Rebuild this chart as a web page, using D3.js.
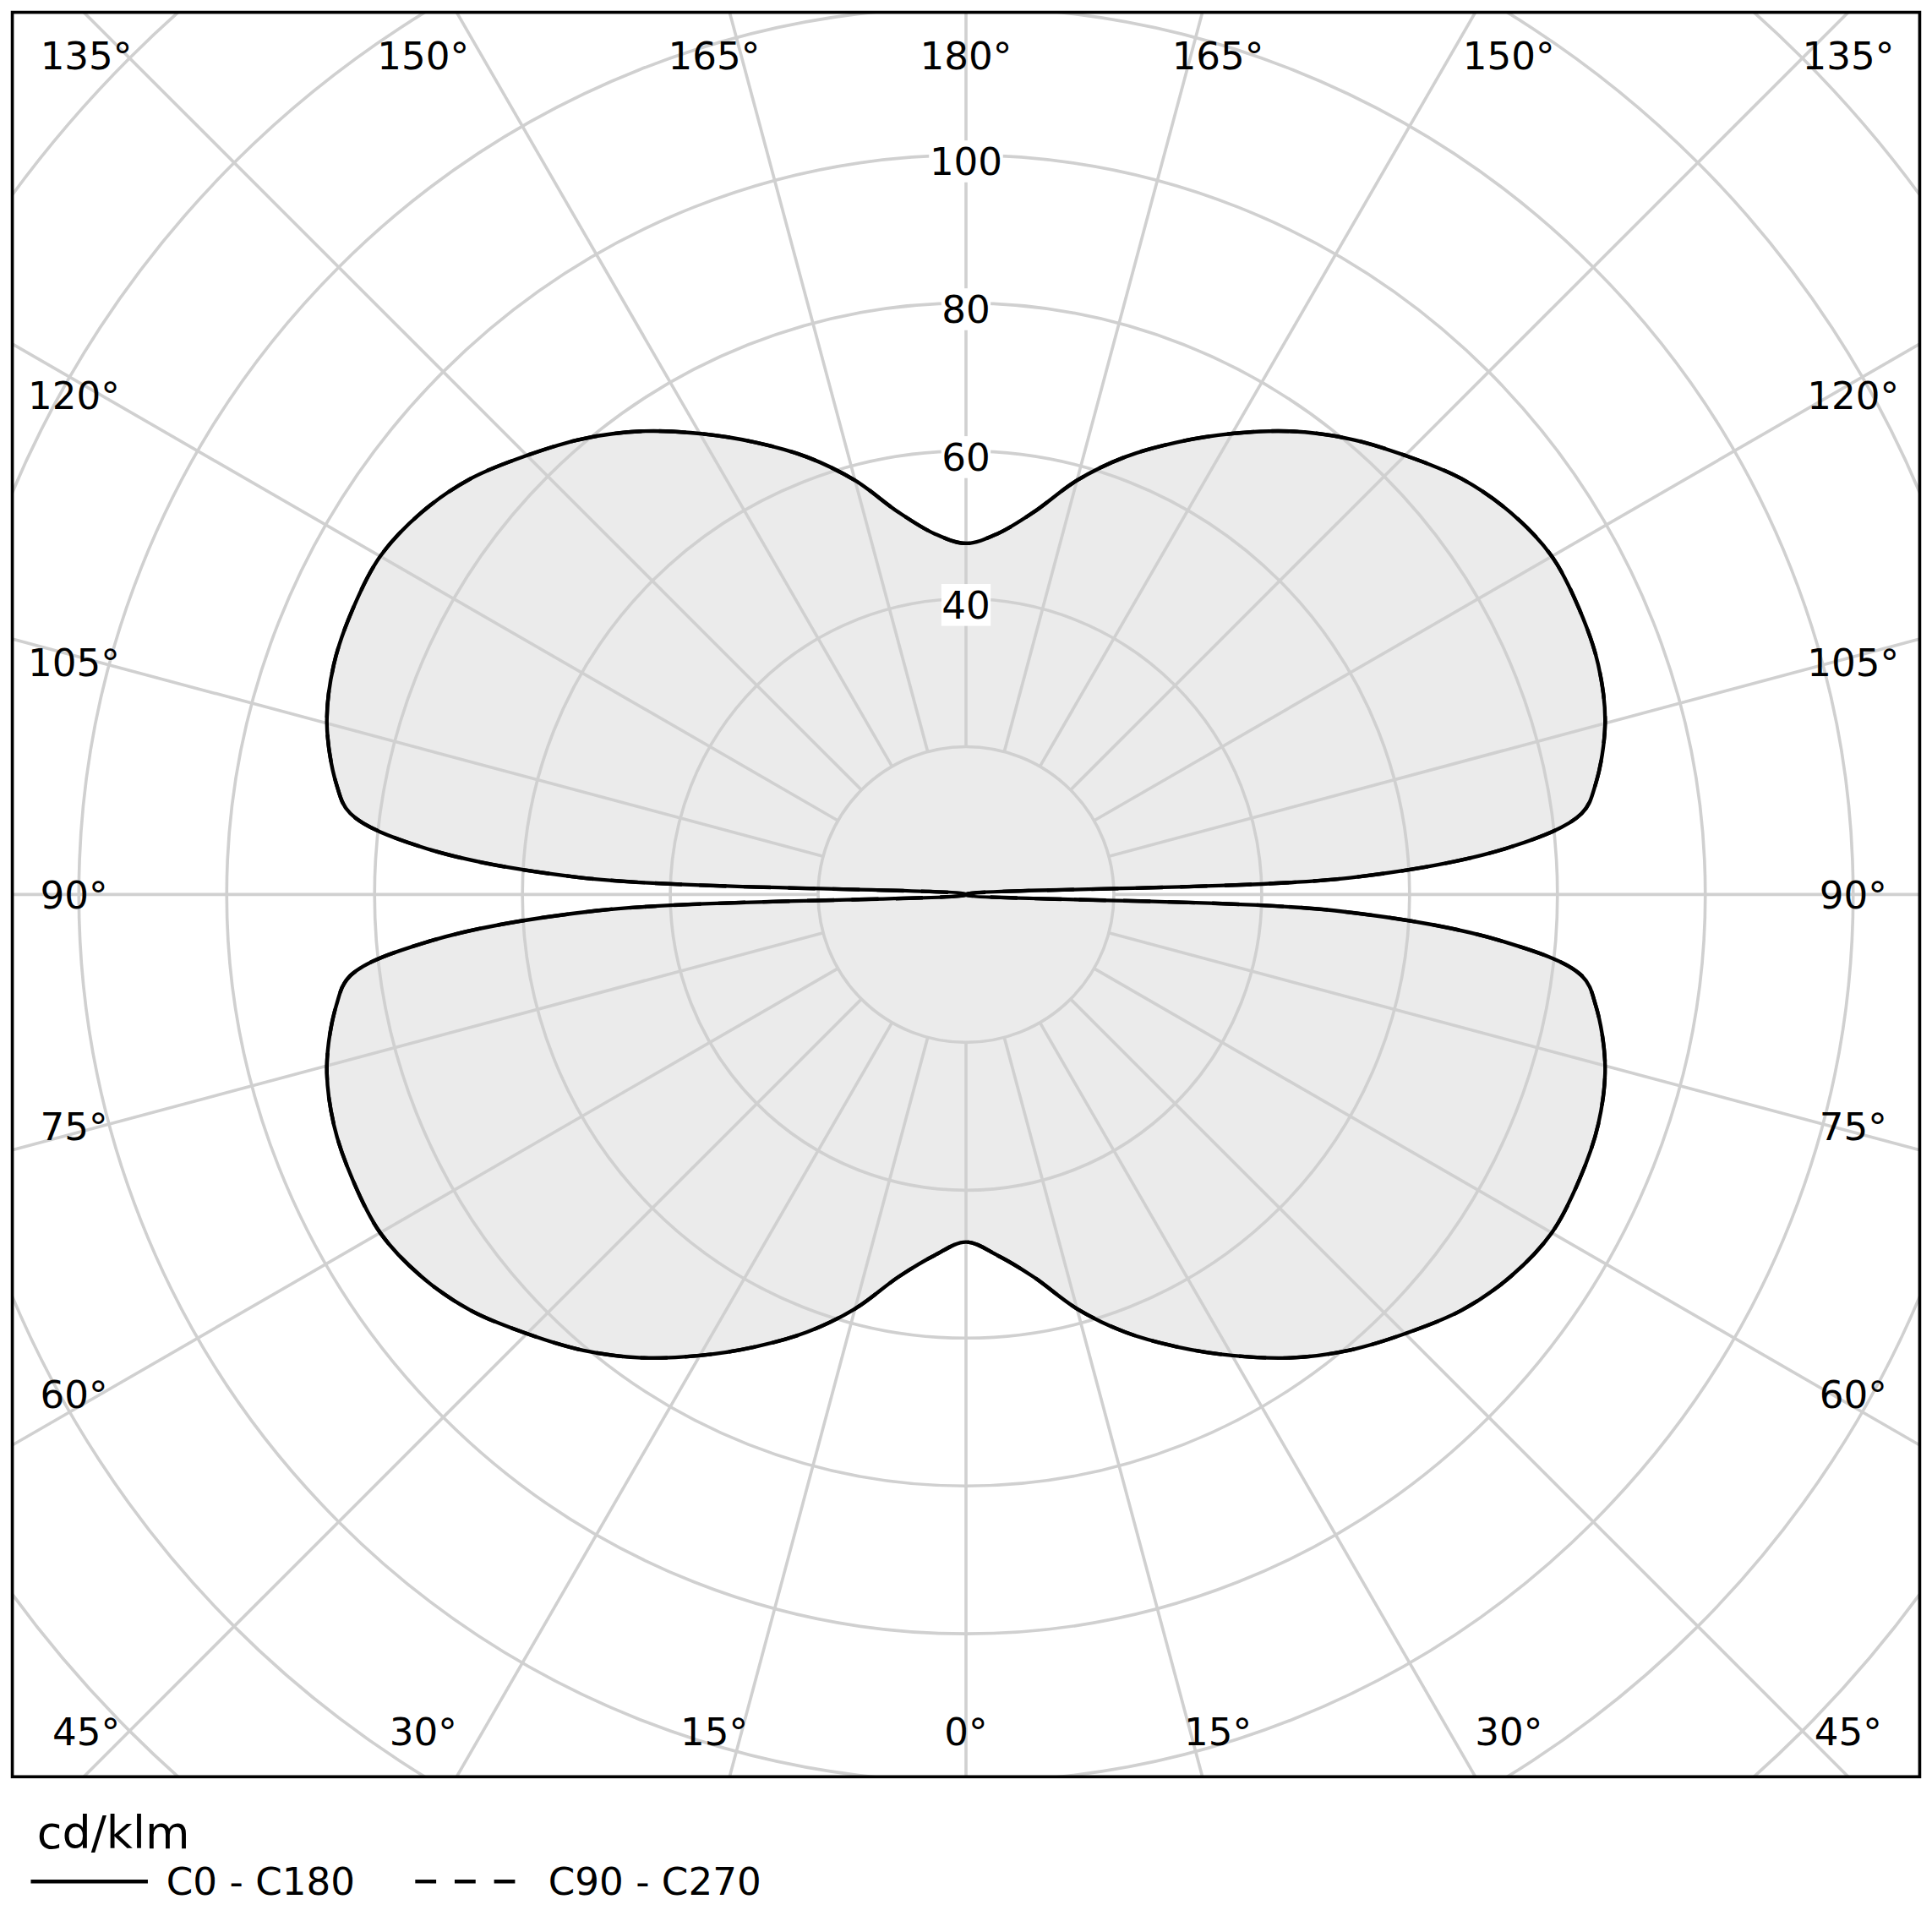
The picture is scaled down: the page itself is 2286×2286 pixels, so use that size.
<!DOCTYPE html>
<html>
<head>
<meta charset="utf-8">
<script src="https://cdn.jsdelivr.net/npm/d3@7"></script>
<style>body{margin:0;background:#fff}</style>
</head>
<body>
<script>
// gamma angles (deg) and intensity cd/klm for C0-C180
const gammaLower = [0, 5, 10, 15, 20, 25, 30, 35, 40, 45, 50, 55, 60, 65, 70, 75, 80, 82.5, 85, 87.5, 90];
const valuesLower = [47, 49, 52.5, 58, 63, 67.5, 72, 76.5, 80.5, 84, 87.5, 90, 91.5, 91.5, 91, 89.5, 86.5, 84, 73, 50, 0];
const gammaUpper = [90, 92.5, 95, 97.5, 100, 105, 110, 115, 120, 125, 130, 135, 140, 145, 150, 155, 160, 165, 170, 175, 180];
const valuesUpper = [0, 52, 74, 84, 86.5, 89.5, 91, 91.5, 91.5, 90, 87.5, 84, 80.5, 76.5, 72, 67.5, 63, 58, 52.5, 49, 47.5];
const ringValues = [20, 40, 60, 80, 100, 120, 140, 160, 180, 200];
const ringLabels = [40, 60, 80, 100];
const spokeAngles = d3.range(0, 360, 15);
const topLabels = [135, 150, 165, 180, 165, 150, 135];
const bottomLabels = [45, 30, 15, 0, 15, 30, 45];
const sideLabels = [120, 105, 90, 75, 60];

const W = 1568, k = 2286 / W;
const cx = 784, cy = 726;
const frame = {x: 10, y: 10, w: 1548, h: 1432};
const r = d3.scaleLinear().domain([0, 100]).range([0, 600]);
const grid = "#d0d0d0";
const font = "DejaVu Sans, Verdana, sans-serif";

const svg = d3.select("body").append("svg")
  .attr("width", 2286).attr("height", 2286)
  .attr("viewBox", `0 0 ${W} ${W}`);

svg.append("clipPath").attr("id", "fr").append("rect")
  .attr("x", frame.x).attr("y", frame.y).attr("width", frame.w).attr("height", frame.h);

const g = svg.append("g").attr("clip-path", "url(#fr)");

// curve points: gamma 0 at bottom
const pts = [];
gammaLower.forEach((a, i) => pts.push([a, valuesLower[i]]));
gammaUpper.slice(1).forEach((a, i) => pts.push([a, valuesUpper[i + 1]]));
const rad = d => d * Math.PI / 180;
const right = pts.map(([a, v]) => [Math.PI - rad(a), r(v)]);
const left = pts.slice().reverse().map(([a, v]) => [Math.PI + rad(a), r(v)]);
const line = d3.lineRadial().curve(d3.curveCatmullRomClosed.alpha(0.5));
const shape = line(right.concat(left.slice(1, -1)));

g.append("path").attr("transform", `translate(${cx},${cy})`)
  .attr("d", shape).attr("fill", "#ebebeb");

// rings
g.selectAll("circle.ring").data(ringValues).join("circle")
  .attr("cx", cx).attr("cy", cy).attr("r", d => r(d))
  .attr("fill", "none").attr("stroke", grid).attr("stroke-width", 2.5);

// spokes
g.selectAll("line.spoke").data(spokeAngles).join("line")
  .attr("x1", d => cx + r(20) * Math.sin(rad(d)))
  .attr("y1", d => cy + r(20) * Math.cos(rad(d)))
  .attr("x2", d => cx + 2000 * Math.sin(rad(d)))
  .attr("y2", d => cy + 2000 * Math.cos(rad(d)))
  .attr("stroke", grid).attr("stroke-width", 2.5);

// curves
g.append("path").attr("transform", `translate(${cx},${cy})`)
  .attr("d", shape).attr("fill", "none").attr("stroke", "#000")
  .attr("stroke-width", 3).attr("stroke-dasharray", "22,14");
g.append("path").attr("transform", `translate(${cx},${cy})`)
  .attr("d", shape).attr("fill", "none").attr("stroke", "#000")
  .attr("stroke-width", 3).attr("stroke-linejoin", "round");

// ring labels
const rl = svg.selectAll("g.rl").data(ringLabels).join("g")
  .attr("transform", d => `translate(${cx},${cy - r(d) + 5})`);
rl.append("rect").attr("x", d => d >= 100 ? -30 : -20).attr("y", -17)
  .attr("width", d => d >= 100 ? 60 : 40).attr("height", 34).attr("fill", "#fff");
rl.append("text").attr("text-anchor", "middle").attr("dy", "0.36em")
  .attr("font-family", font).attr("font-size", 31).text(d => d);

// angle labels
const lab = (x, y, t) => svg.append("text").attr("x", x).attr("y", y)
  .attr("text-anchor", "middle").attr("dy", "0.36em")
  .attr("font-family", font).attr("font-size", 31).text(t + "°");
const tb = [-45, -30, -15, 0, 15, 30, 45];
tb.forEach((a, i) => {
  const dx = a === -45 ? -714 : a === 45 ? 716 : 763 * Math.tan(rad(a));
  lab(cx + dx, 45, topLabels[i]);
  lab(cx + dx, 1405, bottomLabels[i]);
});
[-30, -15, 0, 15, 30].forEach((a, i) => {
  const dy = 702 * Math.tan(rad(a));
  lab(cx - 724, cy + dy, sideLabels[i]);
  lab(cx + 720, cy + dy, sideLabels[i]);
});

// frame
svg.append("rect").attr("x", frame.x).attr("y", frame.y)
  .attr("width", frame.w).attr("height", frame.h)
  .attr("fill", "none").attr("stroke", "#000").attr("stroke-width", 2.5);

// legend
svg.append("text").attr("x", 30).attr("y", 1500).attr("font-family", font)
  .attr("font-size", 37).text("cd/klm");
svg.append("line").attr("x1", 25).attr("x2", 120).attr("y1", 1527).attr("y2", 1527)
  .attr("stroke", "#000").attr("stroke-width", 3);
svg.append("text").attr("x", 135).attr("y", 1538).attr("font-family", font)
  .attr("font-size", 31).text("C0 - C180");
svg.append("line").attr("x1", 337).attr("x2", 430).attr("y1", 1527).attr("y2", 1527)
  .attr("stroke", "#000").attr("stroke-width", 3).attr("stroke-dasharray", "17,15");
svg.append("text").attr("x", 445).attr("y", 1538).attr("font-family", font)
  .attr("font-size", 31).text("C90 - C270");
</script>
</body>
</html>
